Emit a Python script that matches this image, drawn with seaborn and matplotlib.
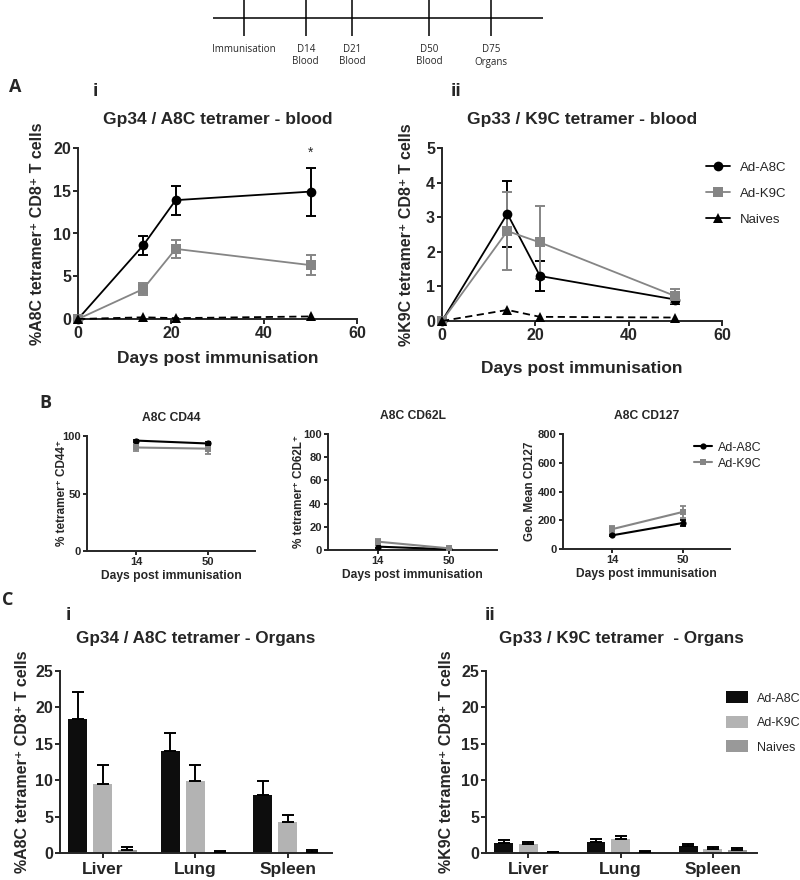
import numpy as np
import pandas as pd
import matplotlib
matplotlib.use("Agg")
import matplotlib.pyplot as plt
from matplotlib.lines import Line2D
from matplotlib.patches import Patch
import seaborn as sns

# --- data ---
timeline_labels = ["Immunisation", "D14\nBlood", "D21\nBlood", "D50\nBlood", "D75\nOrgans"]
timeline_pos = [0, 1, 1.75, 3, 4]  # schematic spacing

groups = ["Ad-A8C", "Ad-K9C", "Naives"]
blood_days = [0, 14, 21, 50]

a8c_blood_ad_a8c = [0, 8.6, 13.9, 14.9]
a8c_blood_ad_a8c_err = [0, 1.15, 1.7, 2.8]
a8c_blood_ad_k9c = [0, 3.5, 8.2, 6.3]
a8c_blood_ad_k9c_err = [0, 0.75, 1.05, 1.2]
a8c_blood_naive = [0, 0.2, 0.1, 0.3]

k9c_blood_ad_a8c = [0, 3.1, 1.3, 0.62]
k9c_blood_ad_a8c_err = [0, 0.95, 0.42, 0.14]
k9c_blood_ad_k9c = [0, 2.6, 2.27, 0.72]
k9c_blood_ad_k9c_err = [0, 1.13, 1.06, 0.2]
k9c_blood_naive = [0, 0.32, 0.12, 0.1]

pheno_days = [14, 50]
cd44_ad_a8c = [96, 93.5]
cd44_ad_a8c_err = [0.8, 1.2]
cd44_ad_k9c = [90, 89]
cd44_ad_k9c_err = [3, 5]
cd62l_ad_a8c = [2.9, 0.6]
cd62l_ad_a8c_err = [1.0, 0.3]
cd62l_ad_k9c = [7.2, 1.4]
cd62l_ad_k9c_err = [2.6, 0.6]
cd127_ad_a8c = [95, 181]
cd127_ad_a8c_err = [8, 23]
cd127_ad_k9c = [138, 258]
cd127_ad_k9c_err = [25, 40]

organs = ["Liver", "Lung", "Spleen"]
a8c_organ_ad_a8c = [18.36, 13.97, 7.92]
a8c_organ_ad_a8c_err = [3.74, 2.53, 1.97]
a8c_organ_ad_k9c = [9.52, 9.84, 4.26]
a8c_organ_ad_k9c_err = [2.52, 2.2, 1.01]
a8c_organ_naive = [0.37, 0.14, 0.14]
a8c_organ_naive_err = [0.45, 0.18, 0.27]
k9c_organ_ad_a8c = [1.37, 1.51, 0.96]
k9c_organ_ad_a8c_err = [0.37, 0.41, 0.23]
k9c_organ_ad_k9c = [1.19, 1.92, 0.55]
k9c_organ_ad_k9c_err = [0.32, 0.37, 0.23]
k9c_organ_naive = [0.09, 0.18, 0.46]
k9c_organ_naive_err = [0.05, 0.14, 0.27]

line_colors = {"Ad-A8C": "#000000", "Ad-K9C": "#858585", "Naives": "#000000"}
bar_colors = {"Ad-A8C": "#0d0d0d", "Ad-K9C": "#b3b3b3", "Naives": "#999999"}
markers = {"Ad-A8C": "o", "Ad-K9C": "s", "Naives": "^"}
dashes = {"Ad-A8C": "", "Ad-K9C": "", "Naives": (4, 2.5)}

sns.set_theme(style="ticks")
plt.rcParams["font.family"] = ["Liberation Sans", "DejaVu Sans"]
plt.rcParams["font.weight"] = "bold"
plt.rcParams["axes.labelweight"] = "bold"
plt.rcParams["axes.titleweight"] = "bold"
plt.rcParams["axes.linewidth"] = 1.4
plt.rcParams["xtick.major.width"] = 1.4
plt.rcParams["ytick.major.width"] = 1.4
plt.rcParams["xtick.major.size"] = 3.5
plt.rcParams["ytick.major.size"] = 3.5
plt.rcParams["xtick.major.pad"] = 1.5
plt.rcParams["ytick.major.pad"] = 1.5

W, H = 800, 880
fig = plt.figure(figsize=(W / 100, H / 100), dpi=100)


def add_ax(l, t, r, b):
    return fig.add_axes([l / W, 1 - b / H, (r - l) / W, (b - t) / H])


def fig_text(x, y, s, **kw):
    fig.text(x / W, 1 - y / H, s, **kw)


# --- timeline schematic ---
tl = add_ax(0, 0, W, 75)
tl.set_xlim(-244 / 61.75, (W - 244) / 61.75)
tl.set_ylim(75, 0)
tl.axis("off")
tl.hlines(18, -0.5, 4.84, color="black", lw=1.1)
tl.vlines(timeline_pos, 0, 36, color="black", lw=1.1)
for p, lab in zip(timeline_pos, timeline_labels):
    tl.text(p, 43.5, lab, ha="center", va="top", fontsize=7,
            fontweight="normal", family=["Open Sans", "DejaVu Sans"], linespacing=1.25)


def blood_panel(ax, means, errs, naive, ymax, yticks):
    rows = []
    for g, m in zip(groups, means + [naive]):
        for d, v in zip(blood_days, m):
            rows.append({"day": d, "value": v, "group": g})
    df = pd.DataFrame(rows)
    sns.lineplot(data=df, x="day", y="value", hue="group", style="group",
                 palette=line_colors, markers=markers, dashes=dashes,
                 markersize=7, markeredgewidth=0, linewidth=1.3,
                 legend=False, ax=ax, clip_on=False, zorder=4)
    for g, m, e in zip(groups[:2], means, errs):
        ax.errorbar(blood_days, m, yerr=e, fmt="none", ecolor=line_colors[g],
                    elinewidth=1.4, capsize=3.5, capthick=1.4, clip_on=False, zorder=3)
    ax.set_xlim(0, 60)
    ax.set_ylim(0, ymax)
    ax.set_xticks([0, 20, 40, 60])
    ax.set_yticks(yticks)
    ax.tick_params(labelsize=11.5)
    sns.despine(ax=ax)


# --- panel A ---
ax_ai = add_ax(78, 148, 357, 319)
blood_panel(ax_ai, [a8c_blood_ad_a8c, a8c_blood_ad_k9c],
            [a8c_blood_ad_a8c_err, a8c_blood_ad_k9c_err], a8c_blood_naive, 20, [0, 5, 10, 15, 20])
ax_ai.set_title("Gp34 / A8C tetramer - blood", fontsize=12.5, pad=17)
ax_ai.set_xlabel("Days post immunisation", fontsize=12.5, labelpad=7)
ax_ai.set_ylabel("%A8C tetramer\u207a CD8\u207a T cells", fontsize=11.5, labelpad=6)
ax_ai.text(50, 18.6, "*", ha="center", va="bottom", fontsize=10, fontweight="normal")

ax_aii = add_ax(442, 148, 722, 321)
blood_panel(ax_aii, [k9c_blood_ad_a8c, k9c_blood_ad_k9c],
            [k9c_blood_ad_a8c_err, k9c_blood_ad_k9c_err], k9c_blood_naive, 5, [0, 1, 2, 3, 4, 5])
ax_aii.set_title("Gp33 / K9C tetramer - blood", fontsize=12.5, pad=17)
ax_aii.set_xlabel("Days post immunisation", fontsize=12.5, labelpad=13)
ax_aii.set_ylabel("%K9C tetramer\u207a CD8\u207a T cells", fontsize=11.5, labelpad=9)
handles = [Line2D([], [], color=line_colors[g], marker=markers[g], markersize=7,
                  lw=1.3, mew=0) for g in groups]
ax_aii.legend(handles, groups, loc="upper left", bbox_to_anchor=(0.9, 0.99),
              frameon=False, prop={"size": 9.5, "weight": "normal"},
              handlelength=1.8, handletextpad=0.8, labelspacing=1.05)

fig_text(15, 87, "A", fontsize=13, ha="center", va="center", family=["Open Sans", "DejaVu Sans"], fontweight="bold")
fig_text(95, 92, "i", fontsize=14, ha="center", va="center")
fig_text(456, 92, "ii", fontsize=14, ha="center", va="center")


# --- panel B ---
def pheno_panel(ax, a8c, a8c_err, k9c, k9c_err, ymax, yticks, title, ylabel, lp):
    rows = []
    for g, m in zip(groups[:2], [a8c, k9c]):
        for d, v in zip(pheno_days, m):
            rows.append({"day": d, "value": v, "group": g})
    df = pd.DataFrame(rows)
    sns.lineplot(data=df, x="day", y="value", hue="group", style="group",
                 palette=line_colors, markers=markers, dashes=dashes,
                 markersize=4.5, markeredgewidth=0, linewidth=1.5,
                 legend=False, ax=ax, zorder=4)
    for g, m, e in zip(groups[:2], [a8c, k9c], [a8c_err, k9c_err]):
        ax.errorbar(pheno_days, m, yerr=e, fmt="none", ecolor=line_colors[g],
                    elinewidth=1.3, capsize=2.5, capthick=1.3, zorder=3)
    ax.set_xlim(-11, 74)
    ax.set_ylim(0, ymax)
    ax.set_xticks(pheno_days)
    ax.set_yticks(yticks)
    ax.tick_params(labelsize=8, length=3)
    ax.set_title(title, fontsize=8.7, pad=11)
    ax.set_xlabel("Days post immunisation", fontsize=8.7, labelpad=2)
    ax.set_ylabel(ylabel, fontsize=8.5, labelpad=lp)
    sns.despine(ax=ax)


ax_b1 = add_ax(87, 436, 255, 551)
pheno_panel(ax_b1, cd44_ad_a8c, cd44_ad_a8c_err, cd44_ad_k9c, cd44_ad_k9c_err,
            100, [0, 50, 100], "A8C CD44", "% tetramer\u207a CD44\u207a", -4)
ax_b2 = add_ax(328, 434, 497, 550)
pheno_panel(ax_b2, cd62l_ad_a8c, cd62l_ad_a8c_err, cd62l_ad_k9c, cd62l_ad_k9c_err,
            100, [0, 20, 40, 60, 80, 100], "A8C CD62L", "% tetramer\u207a CD62L\u207a", -1.5)
ax_b3 = add_ax(563, 434, 730, 549)
pheno_panel(ax_b3, cd127_ad_a8c, cd127_ad_a8c_err, cd127_ad_k9c, cd127_ad_k9c_err,
            800, [0, 200, 400, 600, 800], "A8C CD127", "Geo. Mean CD127", 1.5)
handles_b = [Line2D([], [], color=line_colors[g], marker=markers[g], markersize=4.5,
                    lw=1.5, mew=0) for g in groups[:2]]
ax_b3.legend(handles_b, groups[:2], loc="upper left", bbox_to_anchor=(0.72, 1.03),
             frameon=False, prop={"size": 9, "weight": "normal"},
             handlelength=1.4, handletextpad=0.5, labelspacing=0.3)

fig_text(45, 403, "B", fontsize=13, ha="center", va="center", family=["Open Sans", "DejaVu Sans"], fontweight="bold")


# --- panel C ---
def organ_panel(ax, means, errs, title, ylabel, lp):
    rows = []
    for g, m in zip(groups, means):
        for o, v in zip(organs, m):
            rows.append({"organ": o, "value": v, "group": g})
    df = pd.DataFrame(rows)
    sns.barplot(data=df, x="organ", y="value", hue="group", palette=bar_colors,
                order=organs, hue_order=groups, errorbar=None, width=0.8, gap=0.23,
                saturation=1, linewidth=0, legend=False, ax=ax)
    for cont, e in zip(ax.containers, errs):
        xs = [b.get_x() + b.get_width() / 2 for b in cont]
        ys = [b.get_height() for b in cont]
        ax.errorbar(xs, ys, yerr=[np.zeros(len(e)), e], fmt="none", ecolor="black",
                    elinewidth=1.4, capsize=4, capthick=1.4, zorder=3)
    ax.set_xlim(-0.46, 2.48)
    ax.set_ylim(0, 25)
    ax.set_yticks([0, 5, 10, 15, 20, 25])
    ax.tick_params(axis="y", labelsize=11.5)
    ax.tick_params(axis="x", labelsize=12.5, pad=3)
    ax.set_xlabel("")
    ax.set_title(title, fontsize=12.3, pad=20)
    ax.set_ylabel(ylabel, fontsize=11.5, labelpad=lp)
    sns.despine(ax=ax)


ax_ci = add_ax(60, 671, 332, 853)
organ_panel(ax_ci, [a8c_organ_ad_a8c, a8c_organ_ad_k9c, a8c_organ_naive],
            [a8c_organ_ad_a8c_err, a8c_organ_ad_k9c_err, a8c_organ_naive_err],
            "Gp34 / A8C tetramer - Organs", "%A8C tetramer\u207a CD8\u207a T cells", 3.5)
ax_cii = add_ax(486, 671, 757, 853)
organ_panel(ax_cii, [k9c_organ_ad_a8c, k9c_organ_ad_k9c, k9c_organ_naive],
            [k9c_organ_ad_a8c_err, k9c_organ_ad_k9c_err, k9c_organ_naive_err],
            "Gp33 / K9C tetramer  - Organs", "%K9C tetramer\u207a CD8\u207a T cells", 5)
handles_c = [Patch(facecolor=bar_colors[g], edgecolor="none") for g in groups]
ax_cii.legend(handles_c, groups, loc="upper left", bbox_to_anchor=(0.845, 0.95),
              frameon=False, prop={"size": 9, "weight": "normal"},
              handlelength=1.75, handleheight=1.1, handletextpad=0.7, labelspacing=0.9)

fig_text(8, 600, "C", fontsize=13, ha="center", va="center", family=["Open Sans", "DejaVu Sans"], fontweight="bold")
fig_text(68, 616, "i", fontsize=14, ha="center", va="center")
fig_text(490, 616, "ii", fontsize=14, ha="center", va="center")

fig.savefig("out.png", dpi=100)
